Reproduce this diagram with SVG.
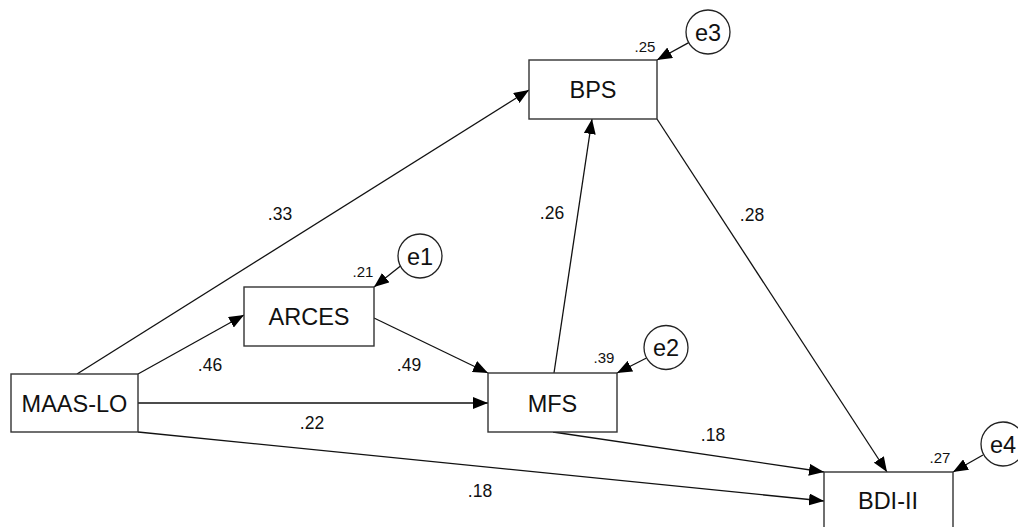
<svg xmlns="http://www.w3.org/2000/svg" width="1018" height="527" viewBox="0 0 1018 527">
  <style>
    .box { fill: #fff; stroke: #333; stroke-width: 1.4; }
    .err { fill: #fff; stroke: #222; stroke-width: 1.3; }
    .name { font-family: "Liberation Sans", Arial, sans-serif; font-size: 23.5px; fill: #111; text-anchor: middle; }
    .coef { font-family: "Liberation Sans", Arial, sans-serif; font-size: 17.5px; fill: #111; text-anchor: middle; }
    .r2 { font-family: "Liberation Sans", Arial, sans-serif; font-size: 15px; fill: #111; text-anchor: middle; }
    .path { stroke: #111; stroke-width: 1.3; fill: none; marker-end: url(#head); }
  </style>
  <defs>
    <marker id="head" markerUnits="userSpaceOnUse" markerWidth="16" markerHeight="12" refX="15" refY="6" orient="auto">
      <path d="M0,0 L15,6 L0,12 z" fill="#000"/>
    </marker>
  </defs>
  <rect width="1018" height="527" fill="#fff"/>

  <!-- paths between variables -->
  <g id="connectors">
    <line class="path" x1="77" y1="374" x2="529" y2="90"/>
    <line class="path" x1="138" y1="374" x2="244" y2="315"/>
    <line class="path" x1="374" y1="318" x2="488" y2="373"/>
    <line class="path" x1="138" y1="403" x2="488" y2="403"/>
    <line class="path" x1="554" y1="373" x2="592" y2="119"/>
    <line class="path" x1="657" y1="119" x2="887" y2="472"/>
    <line class="path" x1="553" y1="432" x2="824" y2="472"/>
    <line class="path" x1="138" y1="432" x2="824" y2="501"/>
    <!-- error terms -->
    <line class="path" x1="688.7" y1="42.6" x2="657" y2="60"/>
    <line class="path" x1="400.5" y1="266" x2="374" y2="287"/>
    <line class="path" x1="646.5" y1="358" x2="617" y2="373"/>
    <line class="path" x1="983" y1="455" x2="953" y2="472"/>
  </g>

  <!-- path coefficients -->
  <g id="coefficients">
    <text class="coef" x="280" y="220">.33</text>
    <text class="coef" x="210" y="371">.46</text>
    <text class="coef" x="409" y="371">.49</text>
    <text class="coef" x="312" y="429">.22</text>
    <text class="coef" x="552" y="219">.26</text>
    <text class="coef" x="752" y="221">.28</text>
    <text class="coef" x="713" y="441">.18</text>
    <text class="coef" x="480" y="497">.18</text>
  </g>

  <g id="MAAS-LO">
    <rect class="box" x="11" y="374" width="127" height="58"/>
    <text class="name" x="74.5" y="411.5">MAAS-LO</text>
  </g>
  <g id="ARCES">
    <rect class="box" x="244" y="287" width="130" height="59"/>
    <text class="name" x="309" y="325">ARCES</text>
    <text class="r2" x="363" y="276.5">.21</text>
  </g>
  <g id="MFS">
    <rect class="box" x="488" y="373" width="129" height="59"/>
    <text class="name" x="552.5" y="411.5">MFS</text>
    <text class="r2" x="604" y="362.5">.39</text>
  </g>
  <g id="BPS">
    <rect class="box" x="529" y="60" width="128" height="59"/>
    <text class="name" x="593" y="98">BPS</text>
    <text class="r2" x="645" y="51.5">.25</text>
  </g>
  <g id="BDI-II">
    <rect class="box" x="824" y="472" width="129" height="60"/>
    <text class="name" x="888" y="508.5">BDI-II</text>
    <text class="r2" x="940" y="462.5">.27</text>
  </g>

  <g id="e1">
    <circle class="err" cx="420" cy="256" r="22"/>
    <text class="name" x="420" y="264.5">e1</text>
  </g>
  <g id="e2">
    <circle class="err" cx="666" cy="347.5" r="22"/>
    <text class="name" x="666" y="356">e2</text>
  </g>
  <g id="e3">
    <circle class="err" cx="708" cy="32" r="22"/>
    <text class="name" x="708" y="40.5">e3</text>
  </g>
  <g id="e4">
    <circle class="err" cx="1003" cy="444" r="22"/>
    <text class="name" x="1003" y="452.5">e4</text>
  </g>
</svg>
